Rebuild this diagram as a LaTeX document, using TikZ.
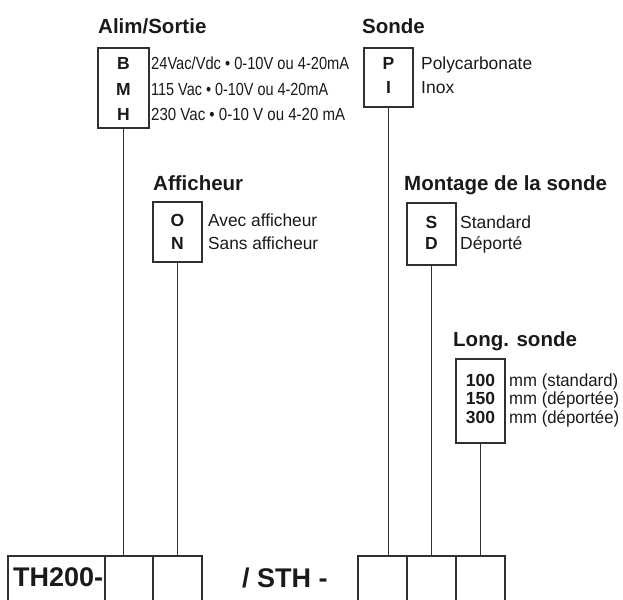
\documentclass[tikz,border=0pt]{standalone}
\usepackage{fontspec}
\setmainfont{Liberation Sans}
\usepackage{graphicx}
\definecolor{linec}{HTML}{303030}
\definecolor{txtc}{HTML}{1A1A1A}
\begin{document}
\begin{tikzpicture}[x=1pt,y=-1pt,
  optbox/.style={draw=linec, line width=1.2pt, minimum width=49pt, inner sep=0pt},
  cellbox/.style={draw=linec, line width=1.2pt, minimum height=80pt, inner sep=0pt},
  head/.style={font=\fontsize{20.5}{20.5}\selectfont\bfseries, anchor=base west, inner sep=0pt, text=txtc},
  code/.style={font=\fontsize{17.5}{17.5}\selectfont\bfseries, anchor=base, inner sep=0pt, text=txtc},
  desc/.style={font=\fontsize{17.5}{17.5}\selectfont, anchor=base west, inner sep=0pt, text=txtc},
  big/.style={font=\fontsize{27}{27}\selectfont\bfseries, anchor=base west, inner sep=0pt, text=txtc},
  conn/.style={draw=linec, line width=1.2pt}]
\useasboundingbox (0,0) rectangle (623,599);
\clip (0,0) rectangle (623,599);

% headings
\node[head] (hAlim) at (98,34) {Alim/Sortie};
\node[head] (hSonde) at (362,34) {Sonde};
\node[head] (hAff) at (153,190) {Afficheur};
\node[head] (hMont) at (404,190) {Montage de la sonde};
\node[head] (hLong) at (453,346) {Long. sonde};

% option boxes
\node[optbox, minimum width=51pt, minimum height=80pt] (alim) at (123.5,88) {};
\node[optbox, minimum height=59pt] (sonde) at (388.5,77.5) {};
\node[optbox, minimum height=60pt] (aff) at (177.5,232) {};
\node[optbox, minimum height=62pt] (mont) at (431.5,234) {};
\node[optbox, minimum height=84pt] (long) at (480.5,401) {};

% codes
\node[code] (cB) at (123.5,69.5) {B};
\node[code] (cM) at (123.5,95.5) {M};
\node[code] (cH) at (123.5,120.5) {H};
\node[code] (cP) at (388.5,70) {P};
\node[code] (cI) at (388.5,94) {I};
\node[code] (cO) at (177.5,226) {O};
\node[code] (cN) at (177.5,249) {N};
\node[code] (cS) at (431.5,228) {S};
\node[code] (cD) at (431.5,249) {D};
\node[code] (c100) at (480.5,386) {100};
\node[code] (c150) at (480.5,404.5) {150};
\node[code] (c300) at (480.5,423) {300};

% descriptions
\node[desc] (dB) at (151,69.5) {\resizebox{198pt}{\height}{24Vac/Vdc • 0-10V ou 4-20mA}};
\node[desc] (dM) at (151,95.5) {\resizebox{177pt}{\height}{115 Vac • 0-10V ou 4-20mA}};
\node[desc] (dH) at (151,120.5) {\resizebox{194pt}{\height}{230 Vac • 0-10 V ou 4-20 mA}};
\node[desc] (dP) at (421,70) {\resizebox{111pt}{\height}{Polycarbonate}};
\node[desc] (dI) at (421,94) {Inox};
\node[desc] (dO) at (208,226) {\resizebox{109pt}{\height}{Avec afficheur}};
\node[desc] (dN) at (208,249) {\resizebox{110pt}{\height}{Sans afficheur}};
\node[desc] (dS) at (460,228) {Standard};
\node[desc] (dD) at (460,249) {Déporté};
\node[desc] (d100) at (509,386) {\resizebox{109pt}{\height}{mm (standard)}};
\node[desc] (d150) at (509,404.5) {\resizebox{110pt}{\height}{mm (déportée)}};
\node[desc] (d300) at (509,423) {\resizebox{110pt}{\height}{mm (déportée)}};

% bottom code cells
\node[cellbox, minimum width=97pt] (b1) at (56.5,596) {};
\node[cellbox, minimum width=48pt] (b2) at (129,596) {};
\node[cellbox, minimum width=49pt] (b3) at (177.5,596) {};
\node[cellbox, minimum width=49pt] (s1) at (382.5,596) {};
\node[cellbox, minimum width=49pt] (s2) at (431.5,596) {};
\node[cellbox, minimum width=49pt] (s3) at (480.5,596) {};
\node[big] (tTH) at (13,586) {TH200-};
\node[big] (tSTH) at (242,587) {/ STH -};

% connectors
\draw[conn] (alim.south) -- (alim.south |- b2.north);
\draw[conn] (aff.south) -- (aff.south |- b3.north);
\draw[conn] (sonde.south) -- (sonde.south |- s1.north);
\draw[conn] (mont.south) -- (mont.south |- s2.north);
\draw[conn] (long.south) -- (long.south |- s3.north);
\end{tikzpicture}
\end{document}
